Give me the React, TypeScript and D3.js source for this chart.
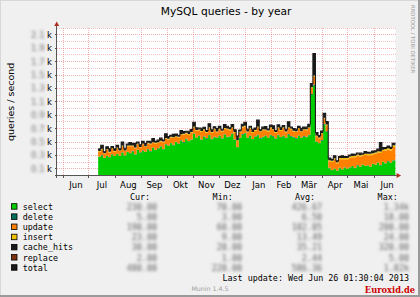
import React from "react";
import * as d3 from "d3";

const W = 420;
const H = 297;

// time window of the "by year" graph
const VIEW_START = new Date(2012, 4, 24, 8, 0);
const VIEW_END = new Date(2013, 5, 26, 1, 30);
const DATA_START = new Date(2012, 6, 12);
const STEP_DAYS = 3;

// queries / second, one sample every 3 days from 2012-07-12
const SELECT = [
  280, 300, 260, 290, 270, 310, 290,
  320, 290, 340, 300, 350, 330, 360, 310, 380, 340,
  370, 350, 390, 360, 410, 380, 400, 430, 390, 460,
  440, 480, 450, 500, 470, 520, 490, 540, 510, 530,
  620, 560, 590, 530, 580, 550, 600, 540, 570, 560,
  590, 550, 610, 570, 580, 620, 530, 420, 560, 610, 630,
  560, 590, 540, 580, 600, 550, 570, 590, 560, 600,
  580, 550, 600, 570, 590, 560, 610, 580, 570,
  550, 590, 560, 580, 570,
  600, 1200, 1340, 500, 480, 520, 760, 650, 110,
  80, 100, 70, 110, 90, 120, 100,
  120, 140, 110, 150, 130, 160, 140, 150, 130, 170,
  160, 190, 150, 200, 180, 210, 190, 220, 230,
];
const DELETE = [
  5, 6, 4, 6, 5, 7, 5,
  6, 5, 7, 4, 6, 5, 8, 6, 5, 7,
  6, 5, 7, 6, 8, 5, 6, 7, 5, 8,
  7, 6, 8, 5, 7, 6, 9, 7, 6, 8,
  8, 7, 6, 9, 7, 8, 6, 7, 9, 7,
  8, 6, 7, 9, 7, 8, 6, 5, 7, 8, 9,
  7, 8, 6, 7, 9, 8, 7, 6, 8, 7,
  8, 7, 9, 6, 8, 7, 8, 9, 7,
  8, 7, 9, 8, 7,
  9, 15, 18, 7, 6, 8, 10, 9, 4,
  3, 4, 3, 4, 3, 4, 3,
  4, 3, 4, 5, 4, 3, 5, 4, 4, 5,
  5, 4, 6, 5, 4, 6, 5, 6, 5,
];
const UPDATE = [
  70, 80, 60, 90, 70, 80, 60,
  80, 70, 90, 60, 80, 100, 70, 90, 80, 70,
  90, 70, 80, 100, 70, 90, 80, 70, 100, 80,
  90, 80, 100, 70, 90, 80, 110, 80, 90, 100,
  90, 100, 80, 110, 90, 80, 100, 90, 110, 80,
  90, 100, 80, 110, 90, 80, 100, 90, 80, 100, 90,
  80, 100, 90, 80, 110, 90, 100, 80, 90, 100,
  90, 80, 100, 90, 110, 80, 90, 100, 80,
  90, 100, 80, 90, 100,
  100, 90, 120, 80, 70, 90, 80, 90, 100,
  120, 140, 110, 130, 150, 120, 140,
  140, 130, 160, 140, 150, 130, 160, 150, 170, 140,
  160, 150, 180, 160, 190, 170, 180, 200, 190,
];
const INSERT = [
  10, 12, 9, 11, 10, 13, 10,
  11, 10, 12, 9, 11, 13, 10, 12, 11, 10,
  12, 10, 11, 13, 10, 12, 11, 10, 13, 11,
  12, 11, 13, 10, 12, 11, 14, 11, 12, 13,
  13, 12, 11, 14, 12, 11, 13, 12, 14, 11,
  12, 13, 11, 14, 12, 11, 13, 10, 11, 13, 12,
  11, 13, 12, 11, 14, 12, 13, 11, 12, 13,
  12, 11, 13, 12, 14, 11, 12, 13, 11,
  12, 13, 11, 12, 13,
  13, 14, 16, 11, 10, 12, 13, 12, 14,
  16, 18, 15, 17, 19, 16, 18,
  18, 17, 20, 18, 19, 17, 20, 19, 21, 18,
  20, 19, 22, 20, 23, 21, 22, 24, 23,
];
const CACHE_HITS = [
  30, 50, 20, 30, 40, 20, 30,
  30, 20, 50, 30, 20, 40, 30, 60, 20, 30,
  30, 40, 20, 30, 50, 20, 30, 40, 20, 60,
  30, 20, 40, 30, 20, 50, 30, 20, 40, 30,
  60, 30, 20, 40, 30, 20, 50, 30, 20, 40,
  30, 20, 50, 30, 20, 40, 30, 60, 20, 30, 50,
  30, 20, 40, 30, 90, 20, 30, 40, 20, 30,
  50, 20, 30, 40, 20, 30, 80, 20, 30,
  30, 20, 40, 30, 30,
  40, 50, 320, 40, 30, 30, 60, 40, 30,
  20, 30, 20, 20, 30, 20, 20,
  20, 30, 20, 20, 30, 20, 30, 20, 20, 30,
  20, 30, 130, 30, 20, 30, 20, 30, 30,
];
const REPLACE = [
  2, 3, 2, 2, 3, 2, 2,
  3, 2, 2, 3, 2, 3, 2, 2, 3, 2,
  2, 3, 2, 2, 3, 2, 3, 2, 2, 3,
  3, 2, 3, 2, 2, 3, 2, 3, 2, 3,
  3, 2, 3, 3, 2, 3, 2, 3, 3, 2,
  3, 2, 3, 2, 3, 3, 2, 3, 2, 3, 3,
  2, 3, 3, 2, 3, 2, 3, 3, 2, 3,
  3, 2, 3, 3, 2, 3, 3, 2, 3,
  2, 3, 3, 2, 3,
  3, 4, 5, 3, 2, 3, 4, 3, 2,
  2, 1, 2, 2, 1, 2, 2,
  2, 2, 1, 2, 2, 1, 2, 2, 2, 1,
  2, 2, 3, 2, 2, 2, 3, 2, 2,
];

const SERIES_NAMES = ["select", "delete", "update", "insert", "cache_hits", "replace"];
const SERIES_VALUES = [SELECT, DELETE, UPDATE, INSERT, CACHE_HITS, REPLACE];
const SERIES_COLORS = ["#00CC00", "#00705A", "#FF7F00", "#F0C000", "#1A1A1A", "#7F3010"];
const TOTAL_COLOR = "#1A1A1A";

const MONTH_LABELS = ["Jun", "Jul", "Aug", "Sep", "Okt", "Nov", "Dez", "Jan", "Feb", "Mär", "Apr", "Mai", "Jun"];
const Y_LABEL_VALUES = [100, 300, 500, 700, 900, 1100, 1300, 1500, 1700, 1900, 2100];
const COLUMN_HEADERS = ["Cur:", "Min:", "Avg:", "Max:"];

const MONO = "'DejaVu Sans Mono', monospace";
const SANS = "'DejaVu Sans', sans-serif";

function fmt(v: number) {
  if (v >= 1000) return (v / 1000).toFixed(2) + "k";
  return v.toFixed(2);
}

export default function App() {
  const left = 56.7;
  const right = 395.6;
  const bottom = 175.5;
  const top = 28.1;

  const x = d3.scaleTime().domain([VIEW_START, VIEW_END]).range([left, right]);
  const y = d3.scaleLinear().domain([0, 2200]).range([bottom, top]);

  const n = SELECT.length;
  const rows: any[] = [];
  for (let i = 0; i < n; i++) {
    const r: any = { date: d3.timeDay.offset(DATA_START, STEP_DAYS * i) };
    SERIES_NAMES.forEach((k, j) => (r[k] = SERIES_VALUES[j][i]));
    rows.push(r);
  }
  // last sample held until "now"
  rows.push({ ...rows[n - 1], date: VIEW_END });

  const stack = d3.stack<any>().keys(SERIES_NAMES);
  const layers = stack(rows);
  const area = d3
    .area<any>()
    .x((d) => x(d.data.date))
    .y0((d) => y(d[0]))
    .y1((d) => y(d[1]))
    .curve(d3.curveStepAfter);
  const totals = rows.map((r) => ({ date: r.date, v: SERIES_NAMES.reduce((s, k) => s + r[k], 0) }));
  const totalLine = d3
    .line<any>()
    .x((d) => x(d.date))
    .y((d) => y(d.v))
    .curve(d3.curveStepAfter);

  const months = d3.timeMonth.range(new Date(2012, 5, 1), new Date(2013, 5, 2));
  const gridYs = d3.range(100, 2201, 100);

  const totalVals = totals.slice(0, n).map((t) => t.v);
  const legendSeries = [
    ...SERIES_NAMES.map((name, j) => ({ name, color: SERIES_COLORS[j], vals: SERIES_VALUES[j] })),
    { name: "total", color: TOTAL_COLOR, vals: totalVals },
  ];
  const colEnds = [157, 242, 322, 409];
  const headerX = [140, 222.7, 305, 387.7];

  return (
    <svg
      width={W}
      height={H}
      viewBox={`0 0 ${W} ${H}`}
      style={{ position: "absolute", left: 0, top: 0 }}
    >
      <defs>
        <filter id="blur" x="-20%" y="-50%" width="140%" height="200%">
          <feGaussianBlur stdDeviation="1.5" />
        </filter>
        <clipPath id="plot">
          <rect x={left} y={top - 1} width={right - left} height={bottom - top + 1} />
        </clipPath>
      </defs>
      <rect x={0} y={0} width={W} height={H} fill="#F0F0F0" />
      {/* frame */}
      <line x1={0.5} y1={0} x2={0.5} y2={H} stroke="#D8D8D8" />
      <line x1={0} y1={0.5} x2={W} y2={0.5} stroke="#D8D8D8" />
      <line x1={W - 1} y1={0} x2={W - 1} y2={H} stroke="#9A9A9A" strokeWidth={2} />
      <line x1={0} y1={H - 1} x2={W} y2={H - 1} stroke="#9A9A9A" strokeWidth={2} />

      <rect x={left} y={top} width={right - left} height={bottom - top} fill="#FFFFFF" />

      {/* grid */}
      <g shapeRendering="crispEdges">
        {gridYs.map((v) => (
          <line
            key={"h" + v}
            x1={left}
            x2={right}
            y1={y(v)}
            y2={y(v)}
            stroke="#E87070"
            strokeOpacity={Y_LABEL_VALUES.includes(v) ? 0.55 : 0.4}
            strokeDasharray="1,1"
          />
        ))}
        {months.map((m) => (
          <line
            key={"v" + m.getTime()}
            x1={x(m)}
            x2={x(m)}
            y1={top}
            y2={bottom}
            stroke="#E87070"
            strokeOpacity={0.55}
            strokeDasharray="1,1"
          />
        ))}
      </g>

      {/* data */}
      <g clipPath="url(#plot)">
        {layers.map((layer, j) => (
          <path key={SERIES_NAMES[j]} d={area(layer) || ""} fill={SERIES_COLORS[j]} />
        ))}
        <path d={totalLine(totals) || ""} fill="none" stroke={TOTAL_COLOR} strokeWidth={1.1} />
      </g>

      {/* axes */}
      <g shapeRendering="crispEdges" stroke="#555">
        <line x1={left - 2} x2={right + 2} y1={bottom} y2={bottom} />
        <line x1={left} x2={left} y1={bottom + 2} y2={top - 2} />
        {Y_LABEL_VALUES.map((v) => (
          <line key={"yt" + v} x1={left - 2} x2={left} y1={y(v)} y2={y(v)} />
        ))}
        {months.map((m) => (
          <line key={"xt" + m.getTime()} x1={x(m)} x2={x(m)} y1={bottom} y2={bottom + 2} />
        ))}
      </g>
      <path d={`M${left - 2.5},${top - 2} L${left + 2.5},${top - 2} L${left},${top - 6.5} Z`} fill="#B03020" />
      <path d={`M${right + 1},${bottom - 2.5} L${right + 1},${bottom + 2.5} L${right + 5.5},${bottom} Z`} fill="#B03020" />

      {/* y labels */}
      {Y_LABEL_VALUES.map((v) => (
        <g key={"yl" + v} fontFamily={SANS} fontSize={8.5}>
          <text x={44.6} y={y(v) + 3} textAnchor="end" fill="#707070" filter="url(#blur)">
            {(v / 1000).toFixed(1)}
          </text>
          <text x={52} y={y(v) + 3} textAnchor="end" fill="#000">
            k
          </text>
        </g>
      ))}
      <text
        transform={`translate(13.5, ${(top + bottom) / 2}) rotate(-90)`}
        textAnchor="middle"
        fontFamily={SANS}
        fontSize={9.5}
        fill="#000"
      >
        queries / second
      </text>

      {/* x labels */}
      {months.map((m, i) => {
        const mid = (x(m) + x(d3.timeMonth.offset(m, 1))) / 2;
        return (
          <text key={"xl" + i} x={mid} y={187.5} textAnchor="middle" fontFamily={SANS} fontSize={8.5} fill="#000">
            {MONTH_LABELS[i]}
          </text>
        );
      })}

      {/* title */}
      <text x={(left + right) / 2} y={15} textAnchor="middle" fontFamily={SANS} fontSize={10.7} fill="#000">
        MySQL queries - by year
      </text>
      <text
        transform="translate(411, 5) rotate(90)"
        fontFamily={SANS}
        fontSize={5.3}
        fill="#A0A0A0"
      >
        RRDTOOL / TOBI OETIKER
      </text>

      {/* legend */}
      {COLUMN_HEADERS.map((h, i) => (
        <text key={h} x={headerX[i]} y={199.7} textAnchor="middle" fontFamily={MONO} fontSize={8.4} fill="#000">
          {h}
        </text>
      ))}
      {legendSeries.map((s, k) => {
        const cy = 206.7 + k * 10.17;
        const vals = s.vals;
        const stats = [vals[vals.length - 1], d3.min(vals) as number, d3.mean(vals) as number, d3.max(vals) as number];
        return (
          <g key={s.name}>
            <rect x={11.5} y={cy - 3} width={5.5} height={5.5} fill={s.color} stroke="#000" strokeWidth={0.8} />
            <text x={22.7} y={cy + 3} fontFamily={MONO} fontSize={8.4} fill="#000">
              {s.name}
            </text>
            {stats.map((v, c) => (
              <text
                key={c}
                x={colEnds[c]}
                y={cy + 3}
                textAnchor="end"
                fontFamily={MONO}
                fontSize={8.4}
                fill="#606060"
                filter="url(#blur)"
              >
                {fmt(v)}
              </text>
            ))}
          </g>
        );
      })}
      <text x={409} y={280.7} textAnchor="end" fontFamily={MONO} fontSize={8.4} fill="#000">
        Last update: Wed Jun 26 01:30:04 2013
      </text>
      <text x={210} y={291} textAnchor="middle" fontFamily={SANS} fontSize={6.3} fill="#A0A0A0">
        Munin 1.4.5
      </text>
      <text x={415} y={293} textAnchor="end" fontFamily="'DejaVu Serif', serif" fontWeight="bold" fontSize={8.3} fill="#CC0000">
        Euroxid.de
      </text>
    </svg>
  );
}
